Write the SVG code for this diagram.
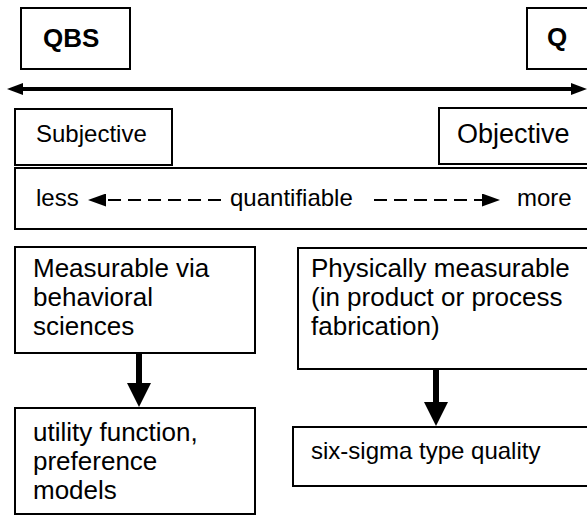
<svg xmlns="http://www.w3.org/2000/svg" width="587" height="517" viewBox="0 0 587 517">
<style>
.box{fill:#fff;stroke:#000;stroke-width:2}
.t{font-family:"Liberation Sans",Arial,sans-serif;fill:#000}
.b{font-weight:bold;font-size:26px}
.n{font-size:26px}
.s{font-size:24px}
</style>
<defs>
<marker id="bigHead" markerUnits="userSpaceOnUse" markerWidth="16" markerHeight="12" viewBox="0 0 16 12" refX="10" refY="6" orient="auto-start-reverse">
<path d="M0,0 L16,6 L0,12 z" fill="#000"/>
</marker>
<marker id="dashHead" markerUnits="userSpaceOnUse" markerWidth="18" markerHeight="13" viewBox="0 0 18 13" refX="8" refY="6.5" orient="auto">
<path d="M0,0 L18,6.5 L0,13 z" fill="#000"/>
</marker>
<marker id="downHead" markerUnits="userSpaceOnUse" markerWidth="24" markerHeight="24" viewBox="0 0 24 24" refX="8" refY="12" orient="auto">
<path d="M0,0 L24,12 L0,24 z" fill="#000"/>
</marker>
</defs>
<g id="qbs"><rect class="box" x="21" y="8" width="109" height="61"/><text class="t b" x="43" y="47">QBS</text></g>
<g id="q"><rect class="box" x="527" y="8" width="62" height="61"/><text class="t b" x="547" y="46">Q</text></g>
<g id="subjective"><rect class="box" x="15" y="109" width="157" height="56"/><text class="t s" x="36" y="142">Subjective</text></g>
<g id="objective"><rect class="box" x="439" y="108" width="150" height="56"/><text class="t" style="font-size:27px" x="457" y="143">Objective</text></g>
<g id="quantifiable"><rect class="box" x="15" y="168" width="574" height="61"/>
<text class="t s" x="36" y="206">less</text><text class="t s" x="230" y="206">quantifiable</text><text class="t s" x="517" y="206">more</text></g>
<g id="measurable"><rect class="box" x="15" y="247" width="240" height="106"/>
<text class="t n" x="33" y="277">Measurable via</text><text class="t n" x="33" y="306">behavioral</text><text class="t n" x="33" y="335">sciences</text></g>
<g id="physically"><rect class="box" x="298" y="248" width="291" height="121"/>
<text class="t n" x="311" y="277">Physically measurable</text><text class="t n" x="311" y="306">(in product or process</text><text class="t n" x="311" y="335">fabrication)</text></g>
<g id="utility"><rect class="box" x="15" y="408" width="240" height="106"/>
<text class="t n" x="33" y="441">utility function,</text><text class="t n" x="33" y="470">preference</text><text class="t n" x="33" y="499">models</text></g>
<g id="sixsigma"><rect class="box" x="293" y="427" width="296" height="59"/>
<text class="t s" x="311" y="459">six-sigma type quality</text></g>
<g id="connectors" fill="none" stroke="#000">
<line x1="13" y1="89" x2="581" y2="89" stroke-width="4" marker-start="url(#bigHead)" marker-end="url(#bigHead)"/>
<line x1="221" y1="200" x2="98" y2="200" stroke-width="2" stroke-dasharray="13 7" marker-end="url(#dashHead)"/>
<line x1="374" y1="200" x2="490" y2="200" stroke-width="2" stroke-dasharray="13 7" marker-end="url(#dashHead)"/>
<line x1="139" y1="354" x2="139" y2="391" stroke-width="6" marker-end="url(#downHead)"/>
<line x1="436" y1="370" x2="436" y2="410" stroke-width="6" marker-end="url(#downHead)"/>
</g>
</svg>
